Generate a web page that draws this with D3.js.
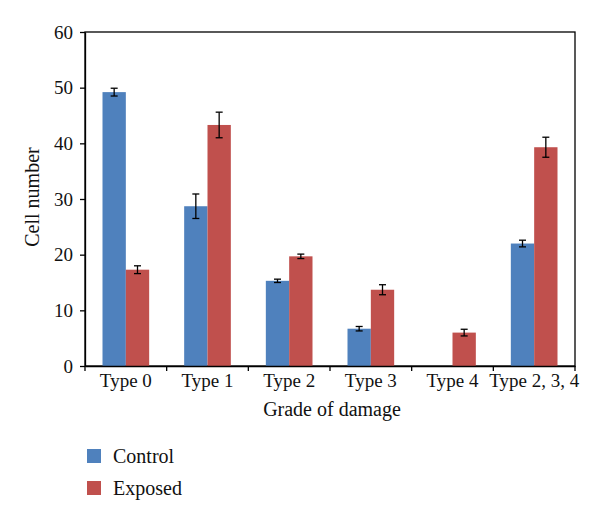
<!DOCTYPE html>
<html><head><meta charset="utf-8">
<script src="https://cdn.jsdelivr.net/npm/d3@7"></script>
<style>body{margin:0;background:#fff}svg{display:block}text{font-family:"Liberation Serif","Times New Roman",serif;fill:#111}</style>
</head><body><svg id="c" width="600" height="519"></svg>
<script>
const categories = ["Type 0","Type 1","Type 2","Type 3","Type 4","Type 2, 3, 4"];
const seriesNames = ["Control","Exposed"];
const controlValues = [49.2, 28.7, 15.3, 6.7, 0, 22.0];
const controlErrors = [0.7, 2.2, 0.3, 0.4, null, 0.6];
const exposedValues = [17.3, 43.3, 19.7, 13.7, 6.0, 39.3];
const exposedErrors = [0.7, 2.3, 0.4, 0.9, 0.6, 1.8];
const yTicks = [0,10,20,30,40,50,60];
const colors = ["#4F81BD","#C0504D"];

const svg = d3.select("#c");
const m = {l:85, r:575, t:32, b:366};
const x = d3.scaleBand().domain(categories).range([m.l, m.r]).paddingInner(0).paddingOuter(0);
const y = d3.scaleLinear().domain([0,60]).range([m.b, m.t]);
const inner = d3.scaleBand().domain(seriesNames).range([0, x.bandwidth()]).paddingInner(0).paddingOuter(0.75);

const data = seriesNames.map((s,i)=>({name:s, color:colors[i],
  values:(i===0?controlValues:exposedValues), errors:(i===0?controlErrors:exposedErrors)}));

// frame
svg.append("rect").attr("x",m.l).attr("y",m.t).attr("width",m.r-m.l).attr("height",m.b-m.t)
  .attr("fill","none").attr("stroke","#000").attr("stroke-width",1.3);

// bars
data.forEach(s=>{
  const g = svg.append("g");
  categories.forEach((c,j)=>{
    const v = s.values[j];
    if (v>0) g.append("rect").attr("x", x(c)+inner(s.name)).attr("y", y(v))
      .attr("width", inner.bandwidth()).attr("height", y(0)-y(v)).attr("fill", s.color);
  });
});
// error bars
data.forEach(s=>{
  categories.forEach((c,j)=>{
    const e = s.errors[j], v = s.values[j];
    if (e==null) return;
    const cx = x(c)+inner(s.name)+inner.bandwidth()/2;
    const g = svg.append("g").attr("stroke","#000").attr("stroke-width",1.3);
    g.append("line").attr("x1",cx).attr("x2",cx).attr("y1",y(v+e)).attr("y2",y(v-e));
    g.append("line").attr("x1",cx-3.5).attr("x2",cx+3.5).attr("y1",y(v+e)).attr("y2",y(v+e));
    g.append("line").attr("x1",cx-3.5).attr("x2",cx+3.5).attr("y1",y(v-e)).attr("y2",y(v-e));
  });
});

// y axis
const ya = svg.append("g").attr("transform",`translate(${m.l},0)`)
  .call(d3.axisLeft(y).tickValues(yTicks).tickSize(5).tickSizeOuter(0).tickPadding(7));
ya.select(".domain").attr("stroke","#000").attr("stroke-width",1.3);
ya.selectAll(".tick line").attr("stroke","#000").attr("stroke-width",1.3);
ya.selectAll("text").style("font-size","19px").style("font-family","Liberation Serif").attr("fill","#111");

// x axis
const xa = svg.append("g").attr("transform",`translate(0,${m.b})`)
  .call(d3.axisBottom(x).tickSize(0).tickSizeOuter(0).tickPadding(8));
xa.select(".domain").attr("stroke","#000").attr("stroke-width",1.3);
xa.selectAll("text").style("font-size","19px").style("font-family","Liberation Serif").attr("fill","#111");
const bounds = categories.map(c=>x(c)).concat([m.r]);
svg.append("g").selectAll("line").data(bounds).join("line")
  .attr("x1",d=>d).attr("x2",d=>d).attr("y1",m.b).attr("y2",m.b+5)
  .attr("stroke","#000").attr("stroke-width",1.3);

// axis titles
svg.append("text").attr("x",(m.l+m.r)/2+2).attr("y",416).attr("text-anchor","middle")
  .style("font-size","20px").text("Grade of damage");
svg.append("text").attr("transform",`translate(39,197) rotate(-90)`).attr("text-anchor","middle")
  .style("font-size","20px").text("Cell number");

// legend
const lg = svg.append("g").selectAll("g").data(data).join("g")
  .attr("transform",(d,i)=>`translate(87,${449+i*32})`);
lg.append("rect").attr("width",14).attr("height",14).attr("fill",d=>d.color);
lg.append("text").attr("x",26).attr("y",14).style("font-size","20px").text(d=>d.name);
</script></body></html>
